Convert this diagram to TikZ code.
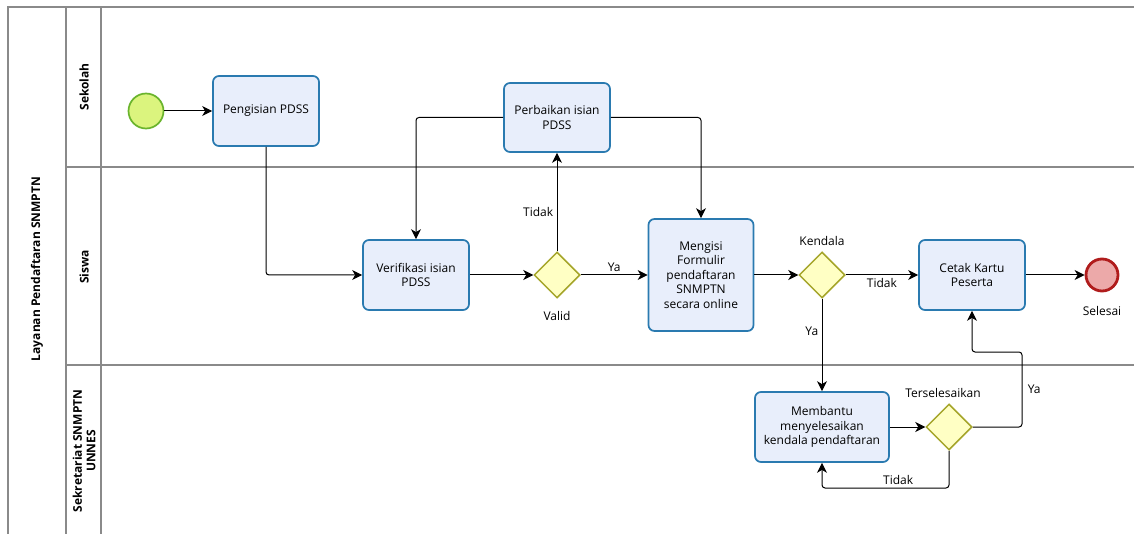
\documentclass[tikz,border=0pt]{standalone}
\usepackage{fontspec}
\setmainfont{Open Sans}
\usepackage{xcolor}
\usetikzlibrary{arrows.meta, positioning, shapes.geometric}

\definecolor{taskfill}{HTML}{E8EEFB}
\definecolor{taskdraw}{HTML}{2A7AB0}
\definecolor{gatefill}{HTML}{FFFFC4}
\definecolor{gatedraw}{HTML}{A5A52A}
\definecolor{startfill}{HTML}{DBF47E}
\definecolor{startdraw}{HTML}{6AB42D}
\definecolor{endfill}{HTML}{ECA9A9}
\definecolor{enddraw}{HTML}{B01C1C}
\definecolor{lanegray}{HTML}{8A8A8A}

\begin{document}
\begin{tikzpicture}[
    x=1pt, y=-1pt,
    font=\fontsize{12}{14.5}\selectfont,
    task/.style={rectangle, draw=taskdraw, line width=1.7pt, rounded corners=6pt, fill=taskfill, align=center, minimum width=106pt, minimum height=70pt, inner sep=2pt},
    gate/.style={diamond, draw=gatedraw, line width=1.5pt, fill=gatefill, minimum width=46pt, minimum height=46pt, inner sep=0pt},
    startev/.style={circle, draw=startdraw, line width=1.7pt, fill=startfill, minimum size=35pt, inner sep=0pt},
    endev/.style={circle, draw=enddraw, line width=2.8pt, fill=endfill, minimum size=32pt, inner sep=0pt},
    lane/.style={draw=lanegray, line width=1.2pt},
    lanelabel/.style={rotate=90, font=\fontsize{12}{13.5}\selectfont\bfseries, align=center},
    flow/.style={-{Stealth[length=10pt, width=10pt, inset=3pt]}, line width=1pt, rounded corners=3pt}
]
\useasboundingbox (0,0) rectangle (1134,534);

% pool and lanes
\draw[lane] (8,534) -- (8,7) -- (1134,7);
\draw[lane] (66,7) -- (66,534);
\draw[lane] (101,7) -- (101,534);
\draw[lane] (66,167) -- (1134,167);
\draw[lane] (66,365) -- (1134,365);
\node[lanelabel] (pool) at (37,269) {Layanan Pendaftaran SNMPTN};
\node[lanelabel] (sekolah) at (84,87) {Sekolah};
\node[lanelabel] (siswa) at (84,267) {Siswa};
\node[lanelabel] (sekretariat) at (84,451) {Sekretariat SNMPTN\\UNNES};

% events, tasks and gateways
\node[startev] (start) at (146,111) {};
\node[task] (pengisian) at (266,111) {Pengisian PDSS};
\node[task] (verifikasi) at (416,275) {Verifikasi isian\\PDSS};
\node[gate] (valid) at (557,275) {};
\node[task, minimum height=69pt] (perbaikan) at (557,117.5) {Perbaikan isian\\PDSS};
\node[task, minimum width=105pt, minimum height=112pt] (mengisi) at (701,275) {Mengisi\\Formulir\\pendaftaran\\SNMPTN\\secara online};
\node[gate] (kendala) at (822,275) {};
\node[task] (cetak) at (972,275) {Cetak Kartu\\Peserta};
\node[endev] (selesai) at (1102,275) {};
\node[task, minimum width=134pt] (membantu) at (822,427) {Membantu\\menyelesaikan\\kendala pendaftaran};
\node[gate] (terselesaikan) at (949,427) {};

% gateway and event labels
\node[below=9pt of valid] (validlbl) {Valid};
\node[above=2pt of kendala] (kendalalbl) {Kendala};
\node[above=2pt of terselesaikan, xshift=-6pt] (terselesaikanlbl) {Terselesaikan};
\node[below=10pt of selesai] (selesailbl) {Selesai};

% bend points
\coordinate (yabend) at (1022,352);
\coordinate (tidakbend) at (949,488);

% sequence flows
\draw[flow] (start) -- (pengisian);
\draw[flow] (pengisian.south) |- (verifikasi.west);
\draw[flow] (verifikasi) -- (valid);
\draw[flow] (valid) -- node[above] {Ya} (mengisi);
\draw[flow] (valid.north) -- node[pos=0.4, left] {Tidak} (perbaikan.south);
\draw[flow] (perbaikan.west) -| (verifikasi.north);
\draw[flow] (perbaikan.east) -| (mengisi.north);
\draw[flow] (mengisi) -- (kendala);
\draw[flow] (kendala) -- node[below] {Tidak} (cetak);
\draw[flow] (kendala.south) -- node[pos=0.35, left] {Ya} (membantu.north);
\draw[flow] (cetak) -- (selesai);
\draw[flow] (membantu) -- (terselesaikan);
\draw[flow] (terselesaikan.east) -| node[pos=0.75, right, xshift=2pt] {Ya} (yabend) -| (cetak.south);
\draw[flow] (terselesaikan.south) -- (tidakbend) -| node[pos=0.2, above] {Tidak} (membantu.south);
\end{tikzpicture}
\end{document}
